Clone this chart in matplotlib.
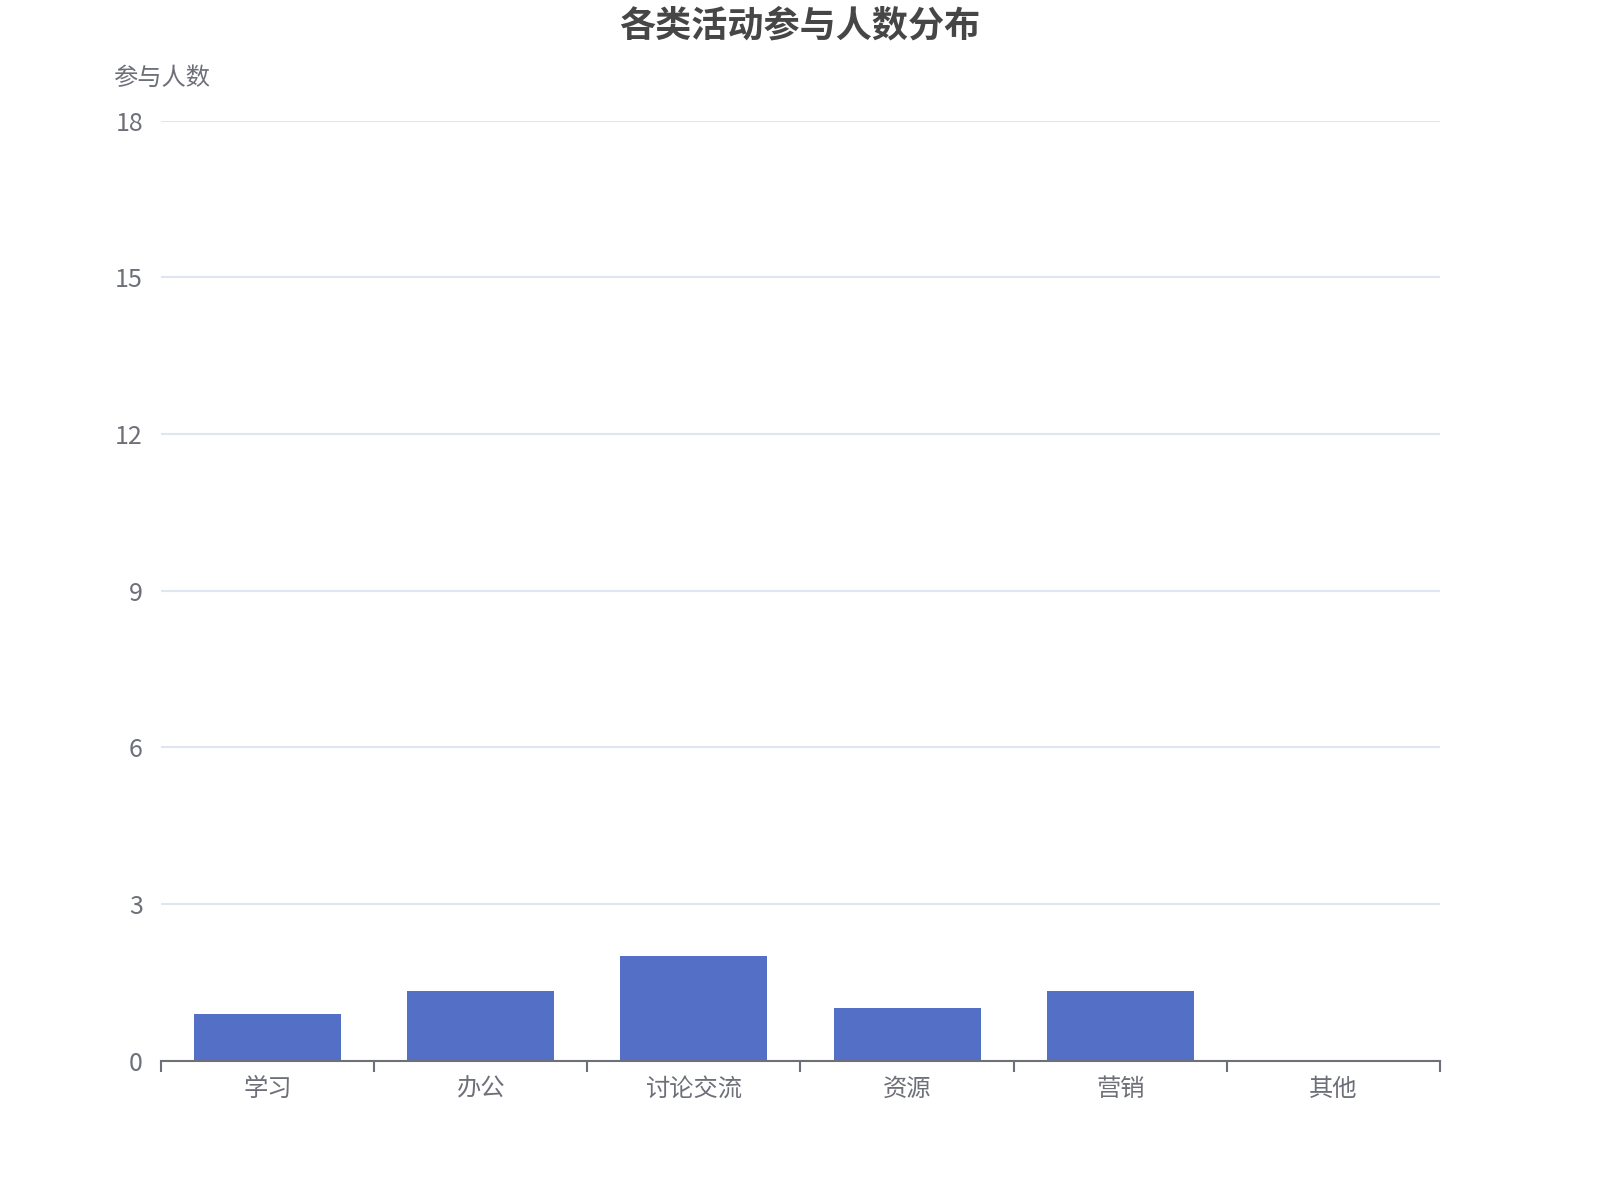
import numpy as np
import matplotlib.pyplot as plt

plt.rcParams['font.family'] = ['Noto Sans CJK SC', 'DejaVu Sans']

categories = ["学习", "办公", "讨论交流", "资源", "营销", "其他"]
values = [0.89, 1.33, 2.0, 1.0, 1.33, 0]
yticks = [0, 3, 6, 9, 12, 15, 18]

text_color = "#6e7079"
bar_color = "#5470c6"
grid_color = "#e0e6f1"

fig = plt.figure(figsize=(16, 12), dpi=100)
ax = fig.add_axes([0.1006, 0.1161, 0.7994, 0.7833])

x = np.arange(len(categories))
ax.bar(x, values, width=0.69, color=bar_color, zorder=3)

ax.set_xlim(-0.5, len(categories) - 0.5)
ax.set_ylim(0, 18)

# y轴
ax.set_yticks(yticks)
ax.set_yticklabels([str(v) for v in yticks], fontsize=18, color=text_color)
ax.tick_params(axis='y', length=0, pad=13)
ax.grid(axis='y', color=grid_color, linewidth=1.5, zorder=0)

# x轴: 刻度在类目边界, 标签在中间
ax.set_xticks(np.arange(-0.5, len(categories), 1))
ax.set_xticklabels([])
ax.tick_params(axis='x', which='major', length=8, width=1.5, color=text_color)
ax.set_xticks(x, minor=True)
ax.set_xticklabels(categories, minor=True, fontsize=17.5, color=text_color)
ax.tick_params(axis='x', which='minor', length=0, pad=11)

for side in ['top', 'right', 'left']:
    ax.spines[side].set_visible(False)
ax.spines['bottom'].set_color(text_color)
ax.spines['bottom'].set_linewidth(1.5)
ax.spines['bottom'].set_zorder(4)

fig.text(0.5, 1 - 26 / 1200, "各类活动参与人数分布", ha='center', va='center',
         fontsize=26, fontweight='bold', color="#464646")
fig.text(113 / 1600, 1 - 78 / 1200, "参与人数", ha='left', va='center',
         fontsize=17.5, color=text_color)

fig.savefig("out.png", dpi=100)
